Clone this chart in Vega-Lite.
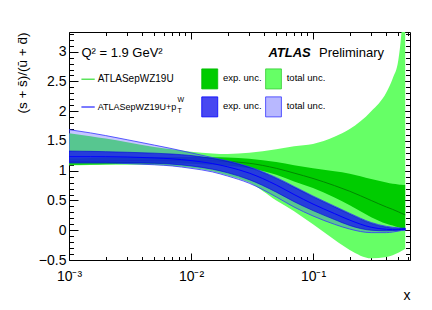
{
  "$schema": "https://vega.github.io/schema/vega-lite/v6.json",
  "width": 341,
  "height": 228,
  "autosize": {"type": "none"},
  "padding": {"left": 69, "top": 32, "right": 22, "bottom": 50},
  "background": "white",
  "config": {
    "view": {"stroke": "black", "strokeWidth": 1},
    "font": "Liberation Sans",
    "axis": {"domain": false, "grid": false, "tickColor": "black", "labelColor": "black", "titleColor": "black", "labelFont": "Liberation Sans", "titleFont": "Liberation Sans", "titleFontWeight": "normal", "tickWidth": 1}
  },
  "datasets": {
    "pdf": [
      {"x": 0.001, "gc": 1.155, "gelo": 1.10, "gehi": 1.21, "gtlo": 1.09, "gthi": 1.63, "bc": 1.235, "belo": 1.14, "behi": 1.33, "btlo": 1.13, "bthi": 1.69},
      {"x": 0.0015, "gc": 1.16, "gelo": 1.105, "gehi": 1.215, "gtlo": 1.095, "gthi": 1.58, "bc": 1.235, "belo": 1.14, "behi": 1.325, "btlo": 1.13, "bthi": 1.635},
      {"x": 0.002, "gc": 1.165, "gelo": 1.11, "gehi": 1.22, "gtlo": 1.10, "gthi": 1.54, "bc": 1.235, "belo": 1.14, "behi": 1.32, "btlo": 1.13, "bthi": 1.59},
      {"x": 0.003, "gc": 1.17, "gelo": 1.115, "gehi": 1.225, "gtlo": 1.10, "gthi": 1.48, "bc": 1.23, "belo": 1.135, "behi": 1.31, "btlo": 1.12, "bthi": 1.52},
      {"x": 0.005, "gc": 1.175, "gelo": 1.12, "gehi": 1.23, "gtlo": 1.095, "gthi": 1.40, "bc": 1.215, "belo": 1.125, "behi": 1.295, "btlo": 1.10, "bthi": 1.43},
      {"x": 0.007, "gc": 1.175, "gelo": 1.12, "gehi": 1.23, "gtlo": 1.08, "gthi": 1.36, "bc": 1.20, "belo": 1.11, "behi": 1.28, "btlo": 1.08, "bthi": 1.37},
      {"x": 0.01, "gc": 1.17, "gelo": 1.115, "gehi": 1.23, "gtlo": 1.05, "gthi": 1.32, "bc": 1.17, "belo": 1.08, "behi": 1.255, "btlo": 1.04, "bthi": 1.30},
      {"x": 0.015, "gc": 1.165, "gelo": 1.10, "gehi": 1.225, "gtlo": 0.99, "gthi": 1.29, "bc": 1.12, "belo": 1.025, "behi": 1.205, "btlo": 0.98, "bthi": 1.22},
      {"x": 0.02, "gc": 1.155, "gelo": 1.085, "gehi": 1.22, "gtlo": 0.92, "gthi": 1.28, "bc": 1.065, "belo": 0.965, "behi": 1.155, "btlo": 0.91, "bthi": 1.165},
      {"x": 0.03, "gc": 1.125, "gelo": 1.04, "gehi": 1.20, "gtlo": 0.80, "gthi": 1.30, "bc": 0.96, "belo": 0.85, "behi": 1.055, "btlo": 0.79, "bthi": 1.065},
      {"x": 0.05, "gc": 1.04, "gelo": 0.93, "gehi": 1.145, "gtlo": 0.50, "gthi": 1.36, "bc": 0.76, "belo": 0.64, "behi": 0.87, "btlo": 0.56, "bthi": 0.885},
      {"x": 0.07, "gc": 0.96, "gelo": 0.82, "gehi": 1.09, "gtlo": 0.32, "gthi": 1.41, "bc": 0.60, "belo": 0.48, "behi": 0.72, "btlo": 0.39, "bthi": 0.735},
      {"x": 0.1, "gc": 0.87, "gelo": 0.71, "gehi": 1.04, "gtlo": 0.10, "gthi": 1.45, "bc": 0.44, "belo": 0.33, "behi": 0.56, "btlo": 0.24, "bthi": 0.575},
      {"x": 0.15, "gc": 0.75, "gelo": 0.55, "gehi": 0.99, "gtlo": -0.16, "gthi": 1.57, "bc": 0.28, "belo": 0.18, "behi": 0.39, "btlo": 0.10, "bthi": 0.405},
      {"x": 0.2, "gc": 0.655, "gelo": 0.42, "gehi": 0.95, "gtlo": -0.33, "gthi": 1.70, "bc": 0.17, "belo": 0.08, "behi": 0.27, "btlo": 0.02, "bthi": 0.285},
      {"x": 0.3, "gc": 0.50, "gelo": 0.22, "gehi": 0.86, "gtlo": -0.47, "gthi": 2.00, "bc": 0.05, "belo": 0.00, "behi": 0.115, "btlo": -0.04, "bthi": 0.13},
      {"x": 0.4, "gc": 0.39, "gelo": 0.11, "gehi": 0.80, "gtlo": -0.45, "gthi": 2.32, "bc": 0.015, "belo": -0.01, "behi": 0.05, "btlo": -0.04, "bthi": 0.065},
      {"x": 0.45, "gc": 0.35, "gelo": 0.08, "gehi": 0.78, "gtlo": -0.42, "gthi": 2.55, "bc": 0.01, "belo": -0.005, "behi": 0.035, "btlo": -0.03, "bthi": 0.05},
      {"x": 0.5, "gc": 0.31, "gelo": 0.05, "gehi": 0.77, "gtlo": -0.38, "gthi": 2.85, "bc": 0.01, "belo": 0.0, "behi": 0.03, "btlo": -0.015, "bthi": 0.04},
      {"x": 0.53, "gc": 0.285, "gelo": 0.035, "gehi": 0.765, "gtlo": -0.35, "gthi": 3.3, "bc": 0.015, "belo": 0.005, "behi": 0.03, "btlo": -0.005, "bthi": 0.035},
      {"x": 0.57, "gc": 0.26, "gelo": 0.02, "gehi": 0.76, "gtlo": -0.31, "gthi": 4.3, "bc": 0.02, "belo": 0.01, "behi": 0.03, "btlo": 0.0, "bthi": 0.035}
    ]
  },
  "data": {"name": "pdf"},
  "resolve": {"axis": {"x": "independent", "y": "independent"}},
  "layer": [
    {
      "mark": {"type": "area", "color": "#66ff66", "clip": true, "interpolate": "monotone"},
      "encoding": {
        "x": {"field": "x", "type": "quantitative", "scale": {"type": "log", "domain": [0.001, 0.624], "nice": false},
          "axis": {"orient": "bottom", "values": [0.001, 0.01, 0.1], "labelExpr": "datum.value < 0.005 ? '10⁻³' : (datum.value < 0.05 ? '10⁻²' : '10⁻¹')", "tickSize": -7, "labelPadding": 16, "labelFontSize": 14, "labelFlush": false, "labelOverlap": false, "title": "x", "titleFontSize": 14, "titleX": 341, "titleY": 39, "titleAlign": "right", "titleBaseline": "alphabetic"}},
        "y": {"field": "gtlo", "type": "quantitative", "scale": {"domain": [-0.5, 3.33], "nice": false, "zero": false},
          "axis": {"orient": "left", "values": [-0.5, 0, 0.5, 1, 1.5, 2, 2.5, 3], "format": "~g", "tickSize": -9, "labelPadding": 12, "labelFontSize": 14, "labelOverlap": false, "title": "(s + s\u0304)/(\u016b + d\u0304)", "titleFontSize": 13.5, "titleAngle": 270, "titleX": -47, "titleY": 0, "titleAlign": "right", "titleBaseline": "middle"}},
        "y2": {"field": "gthi"}
      }
    },
    {
      "mark": {"type": "area", "color": "#00cc00", "clip": true, "interpolate": "monotone"},
      "encoding": {
        "x": {"field": "x", "type": "quantitative", "scale": {"type": "log", "domain": [0.001, 0.624], "nice": false},
          "axis": {"orient": "bottom", "values": [0.002, 0.003, 0.004, 0.005, 0.006, 0.007, 0.008, 0.009, 0.02, 0.03, 0.04, 0.05, 0.06, 0.07, 0.08, 0.09, 0.2, 0.3, 0.4, 0.5, 0.6], "labels": false, "tickSize": -3.5, "title": null}},
        "y": {"field": "gelo", "type": "quantitative", "scale": {"domain": [-0.5, 3.33], "nice": false, "zero": false},
          "axis": {"orient": "left", "values": [-0.4, -0.3, -0.2, -0.1, 0.1, 0.2, 0.3, 0.4, 0.6, 0.7, 0.8, 0.9, 1.1, 1.2, 1.3, 1.4, 1.6, 1.7, 1.8, 1.9, 2.1, 2.2, 2.3, 2.4, 2.6, 2.7, 2.8, 2.9, 3.1, 3.2, 3.3], "labels": false, "tickSize": -4.5, "title": null}},
        "y2": {"field": "gehi"}
      }
    },
    {
      "mark": {"type": "line", "color": "#008800", "strokeWidth": 1, "clip": true, "interpolate": "monotone"},
      "encoding": {
        "x": {"field": "x", "type": "quantitative", "scale": {"type": "log", "domain": [0.001, 0.624], "nice": false},
          "axis": {"orient": "top", "values": [0.001, 0.01, 0.1], "labels": false, "tickSize": -7, "title": null}},
        "y": {"field": "gc", "type": "quantitative", "scale": {"domain": [-0.5, 3.33], "nice": false, "zero": false},
          "axis": {"orient": "right", "values": [-0.5, 0, 0.5, 1, 1.5, 2, 2.5, 3], "labels": false, "tickSize": -9, "title": null}}
      }
    },
    {
      "mark": {"type": "area", "fill": "#3333ff", "fillOpacity": 0.28, "stroke": "#3333ff", "strokeWidth": 0.8, "clip": true, "interpolate": "monotone"},
      "encoding": {
        "x": {"field": "x", "type": "quantitative", "scale": {"type": "log", "domain": [0.001, 0.624], "nice": false},
          "axis": {"orient": "top", "values": [0.002, 0.003, 0.004, 0.005, 0.006, 0.007, 0.008, 0.009, 0.02, 0.03, 0.04, 0.05, 0.06, 0.07, 0.08, 0.09, 0.2, 0.3, 0.4, 0.5, 0.6], "labels": false, "tickSize": -3.5, "title": null}},
        "y": {"field": "btlo", "type": "quantitative", "scale": {"domain": [-0.5, 3.33], "nice": false, "zero": false},
          "axis": {"orient": "right", "values": [-0.4, -0.3, -0.2, -0.1, 0.1, 0.2, 0.3, 0.4, 0.6, 0.7, 0.8, 0.9, 1.1, 1.2, 1.3, 1.4, 1.6, 1.7, 1.8, 1.9, 2.1, 2.2, 2.3, 2.4, 2.6, 2.7, 2.8, 2.9, 3.1, 3.2, 3.3], "labels": false, "tickSize": -4.5, "title": null}},
        "y2": {"field": "bthi"}
      }
    },
    {
      "mark": {"type": "area", "fill": "#1a1aee", "fillOpacity": 0.8, "stroke": "#0000dd", "strokeWidth": 0.6, "clip": true, "interpolate": "monotone"},
      "encoding": {
        "x": {"field": "x", "type": "quantitative", "scale": {"type": "log", "domain": [0.001, 0.624], "nice": false}, "axis": null},
        "y": {"field": "belo", "type": "quantitative", "scale": {"domain": [-0.5, 3.33], "nice": false, "zero": false}, "axis": null},
        "y2": {"field": "behi"}
      }
    },
    {
      "mark": {"type": "line", "color": "#0000ff", "strokeWidth": 1, "clip": true, "interpolate": "monotone"},
      "encoding": {
        "x": {"field": "x", "type": "quantitative", "scale": {"type": "log", "domain": [0.001, 0.624], "nice": false}, "axis": null},
        "y": {"field": "bc", "type": "quantitative", "scale": {"domain": [-0.5, 3.33], "nice": false, "zero": false}, "axis": null}
      }
    },
    {
      "data": {"values": [{}]},
      "mark": {"type": "text", "align": "left", "baseline": "middle", "font": "Liberation Sans", "fontSize": 13, "color": "black"},
      "encoding": {
        "x": {"datum": 0.001264, "type": "quantitative", "scale": {"type": "log", "domain": [0.001, 0.624], "nice": false}, "axis": null},
        "y": {"datum": 2.98, "type": "quantitative", "scale": {"domain": [-0.5, 3.33], "nice": false, "zero": false}, "axis": null},
        "text": {"value": "Q\u00b2 = 1.9 GeV\u00b2"}
      }
    },
    {
      "data": {"values": [{}]},
      "mark": {"type": "text", "align": "left", "baseline": "middle", "font": "Liberation Sans", "fontSize": 13, "fontStyle": "italic", "fontWeight": "bold", "color": "black"},
      "encoding": {
        "x": {"datum": 0.0431, "type": "quantitative", "scale": {"type": "log", "domain": [0.001, 0.624], "nice": false}, "axis": null},
        "y": {"datum": 2.98, "type": "quantitative", "scale": {"domain": [-0.5, 3.33], "nice": false, "zero": false}, "axis": null},
        "text": {"value": "ATLAS"}
      }
    },
    {
      "data": {"values": [{}]},
      "mark": {"type": "text", "align": "left", "baseline": "middle", "font": "Liberation Sans", "fontSize": 13, "color": "black"},
      "encoding": {
        "x": {"datum": 0.112, "type": "quantitative", "scale": {"type": "log", "domain": [0.001, 0.624], "nice": false}, "axis": null},
        "y": {"datum": 2.98, "type": "quantitative", "scale": {"domain": [-0.5, 3.33], "nice": false, "zero": false}, "axis": null},
        "text": {"value": "Preliminary"}
      }
    },
    {
      "data": {"values": [{}]},
      "mark": {"type": "rule", "color": "#33dd33", "strokeWidth": 1.2},
      "encoding": {
        "x": {"datum": 0.001264, "type": "quantitative", "scale": {"type": "log", "domain": [0.001, 0.624], "nice": false}, "axis": null},
        "x2": {"datum": 0.001625},
        "y": {"datum": 2.537, "type": "quantitative", "scale": {"domain": [-0.5, 3.33], "nice": false, "zero": false}, "axis": null}
      }
    },
    {
      "data": {"values": [{}]},
      "mark": {"type": "text", "align": "left", "baseline": "middle", "font": "Liberation Sans", "fontSize": 10, "color": "black"},
      "encoding": {
        "x": {"datum": 0.001718, "type": "quantitative", "scale": {"type": "log", "domain": [0.001, 0.624], "nice": false}, "axis": null},
        "y": {"datum": 2.537, "type": "quantitative", "scale": {"domain": [-0.5, 3.33], "nice": false, "zero": false}, "axis": null},
        "text": {"value": "ATLASepWZ19U"}
      }
    },
    {
      "data": {"values": [{}]},
      "mark": {"type": "rect", "fill": "#00cc00", "stroke": "#00bb00", "strokeWidth": 0.8},
      "encoding": {
        "x": {"datum": 0.01225, "type": "quantitative", "scale": {"type": "log", "domain": [0.001, 0.624], "nice": false}, "axis": null},
        "x2": {"datum": 0.01656},
        "y": {"datum": 2.374, "type": "quantitative", "scale": {"domain": [-0.5, 3.33], "nice": false, "zero": false}, "axis": null},
        "y2": {"datum": 2.71}
      }
    },
    {
      "data": {"values": [{}]},
      "mark": {"type": "text", "align": "left", "baseline": "middle", "font": "Liberation Sans", "fontSize": 9.5, "color": "black"},
      "encoding": {
        "x": {"datum": 0.01829, "type": "quantitative", "scale": {"type": "log", "domain": [0.001, 0.624], "nice": false}, "axis": null},
        "y": {"datum": 2.55, "type": "quantitative", "scale": {"domain": [-0.5, 3.33], "nice": false, "zero": false}, "axis": null},
        "text": {"value": "exp. unc."}
      }
    },
    {
      "data": {"values": [{}]},
      "mark": {"type": "rect", "fill": "#66ff66", "stroke": "#33cc33", "strokeWidth": 0.8},
      "encoding": {
        "x": {"datum": 0.0409, "type": "quantitative", "scale": {"type": "log", "domain": [0.001, 0.624], "nice": false}, "axis": null},
        "x2": {"datum": 0.0551},
        "y": {"datum": 2.374, "type": "quantitative", "scale": {"domain": [-0.5, 3.33], "nice": false, "zero": false}, "axis": null},
        "y2": {"datum": 2.71}
      }
    },
    {
      "data": {"values": [{}]},
      "mark": {"type": "text", "align": "left", "baseline": "middle", "font": "Liberation Sans", "fontSize": 9.5, "color": "black"},
      "encoding": {
        "x": {"datum": 0.0609, "type": "quantitative", "scale": {"type": "log", "domain": [0.001, 0.624], "nice": false}, "axis": null},
        "y": {"datum": 2.55, "type": "quantitative", "scale": {"domain": [-0.5, 3.33], "nice": false, "zero": false}, "axis": null},
        "text": {"value": "total unc."}
      }
    },
    {
      "data": {"values": [{}]},
      "mark": {"type": "rule", "color": "#2222ff", "strokeWidth": 1.2},
      "encoding": {
        "x": {"datum": 0.001264, "type": "quantitative", "scale": {"type": "log", "domain": [0.001, 0.624], "nice": false}, "axis": null},
        "x2": {"datum": 0.001625},
        "y": {"datum": 2.07, "type": "quantitative", "scale": {"domain": [-0.5, 3.33], "nice": false, "zero": false}, "axis": null}
      }
    },
    {
      "data": {"values": [{}]},
      "mark": {"type": "text", "align": "left", "baseline": "middle", "font": "Liberation Sans", "fontSize": 9, "color": "black"},
      "encoding": {
        "x": {"datum": 0.001718, "type": "quantitative", "scale": {"type": "log", "domain": [0.001, 0.624], "nice": false}, "axis": null},
        "y": {"datum": 2.07, "type": "quantitative", "scale": {"domain": [-0.5, 3.33], "nice": false, "zero": false}, "axis": null},
        "text": {"value": "ATLASepWZ19U+p"}
      }
    },
    {
      "data": {"values": [{}]},
      "mark": {"type": "text", "align": "left", "baseline": "middle", "font": "Liberation Sans", "fontSize": 7, "color": "black"},
      "encoding": {
        "x": {"datum": 0.00775, "type": "quantitative", "scale": {"type": "log", "domain": [0.001, 0.624], "nice": false}, "axis": null},
        "y": {"datum": 2.19, "type": "quantitative", "scale": {"domain": [-0.5, 3.33], "nice": false, "zero": false}, "axis": null},
        "text": {"value": "W"}
      }
    },
    {
      "data": {"values": [{}]},
      "mark": {"type": "text", "align": "left", "baseline": "middle", "font": "Liberation Sans", "fontSize": 7, "color": "black"},
      "encoding": {
        "x": {"datum": 0.00775, "type": "quantitative", "scale": {"type": "log", "domain": [0.001, 0.624], "nice": false}, "axis": null},
        "y": {"datum": 2.0, "type": "quantitative", "scale": {"domain": [-0.5, 3.33], "nice": false, "zero": false}, "axis": null},
        "text": {"value": "T"}
      }
    },
    {
      "data": {"values": [{}]},
      "mark": {"type": "rect", "fill": "#1a1aee", "fillOpacity": 0.8, "stroke": "#0000ff", "strokeWidth": 0.8},
      "encoding": {
        "x": {"datum": 0.01225, "type": "quantitative", "scale": {"type": "log", "domain": [0.001, 0.624], "nice": false}, "axis": null},
        "x2": {"datum": 0.01656},
        "y": {"datum": 1.904, "type": "quantitative", "scale": {"domain": [-0.5, 3.33], "nice": false, "zero": false}, "axis": null},
        "y2": {"datum": 2.24}
      }
    },
    {
      "data": {"values": [{}]},
      "mark": {"type": "text", "align": "left", "baseline": "middle", "font": "Liberation Sans", "fontSize": 9.5, "color": "black"},
      "encoding": {
        "x": {"datum": 0.01829, "type": "quantitative", "scale": {"type": "log", "domain": [0.001, 0.624], "nice": false}, "axis": null},
        "y": {"datum": 2.085, "type": "quantitative", "scale": {"domain": [-0.5, 3.33], "nice": false, "zero": false}, "axis": null},
        "text": {"value": "exp. unc."}
      }
    },
    {
      "data": {"values": [{}]},
      "mark": {"type": "rect", "fill": "#3333ff", "fillOpacity": 0.35, "stroke": "#3333ff", "strokeWidth": 0.8},
      "encoding": {
        "x": {"datum": 0.0409, "type": "quantitative", "scale": {"type": "log", "domain": [0.001, 0.624], "nice": false}, "axis": null},
        "x2": {"datum": 0.0551},
        "y": {"datum": 1.904, "type": "quantitative", "scale": {"domain": [-0.5, 3.33], "nice": false, "zero": false}, "axis": null},
        "y2": {"datum": 2.24}
      }
    },
    {
      "data": {"values": [{}]},
      "mark": {"type": "text", "align": "left", "baseline": "middle", "font": "Liberation Sans", "fontSize": 9.5, "color": "black"},
      "encoding": {
        "x": {"datum": 0.0609, "type": "quantitative", "scale": {"type": "log", "domain": [0.001, 0.624], "nice": false}, "axis": null},
        "y": {"datum": 2.085, "type": "quantitative", "scale": {"domain": [-0.5, 3.33], "nice": false, "zero": false}, "axis": null},
        "text": {"value": "total unc."}
      }
    }
  ]
}
